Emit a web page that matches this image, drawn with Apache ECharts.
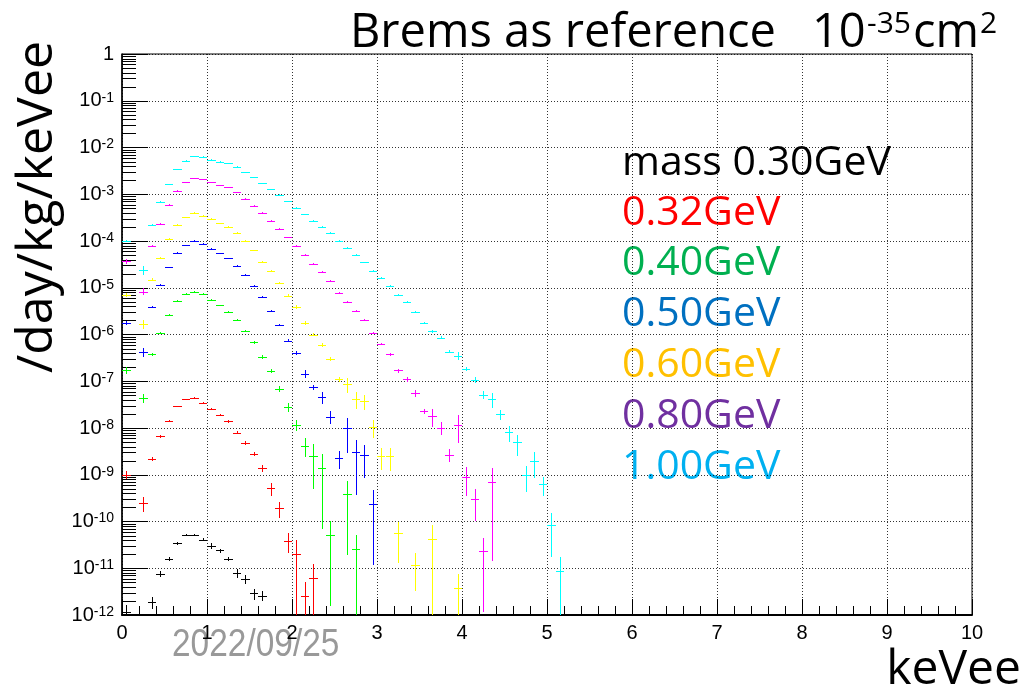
<!DOCTYPE html>
<html><head><meta charset="utf-8">
<script src="https://cdn.jsdelivr.net/npm/echarts@6/dist/echarts.min.js"></script>
<style>html,body{margin:0;padding:0;background:#fff}#c{width:1024px;height:691px}</style>
</head><body><div id="c"></div>
<script>
// ---- data (bin centres in keVee, rates in /day/kg/keVee, relative errors) ----
const energy = [0.05,0.15,0.25,0.35,0.45,0.55,0.65,0.75,0.85,0.95,1.05,1.15,1.25,1.35,1.45,1.55,1.65,1.75,1.85,1.95,2.05,2.15,2.25,2.35,2.45,2.55,2.65,2.75,2.85,2.95,3.05,3.15,3.25,3.35,3.45,3.55,3.65,3.75,3.85,3.95,4.05,4.15,4.25,4.35,4.45,4.55,4.65,4.75,4.85,4.95,5.05,5.15];
const binWidth = 0.1;

const m030 = [1.15e-12,null,null,1.9e-12,7.6e-12,1.6e-11,3.4e-11,5.1e-11,5.1e-11,4.1e-11,3.0e-11,2.4e-11,1.6e-11,7.9e-12,6.0e-12,2.9e-12,2.6e-12];
const m030Err = [0.45,null,null,0.28,0.15,0.1,0.08,0.05,0.05,0.07,0.15,0.1,0.1,0.2,0.22,0.27,0.25];

const m032 = [1.0e-9,null,2.5e-10,2.2e-9,6.6e-9,1.4e-8,2.9e-8,4.1e-8,4.4e-8,3.4e-8,2.6e-8,1.9e-8,1.4e-8,7.9e-9,4.7e-9,2.8e-9,1.4e-9,5.1e-10,1.9e-10,3.9e-11,2.0e-11,2.6e-12,6.2e-12];
const m032Err = [0.2,null,0.35,0.1,0.06,0.05,0.04,0.04,0.04,0.05,0.05,0.06,0.07,0.08,0.1,0.12,0.17,0.3,0.37,0.45,1.0,0.95,0.95];

const m040 = [1.7e-7,null,4.3e-8,3.8e-7,1.07e-6,2.6e-6,5.2e-6,7.4e-6,8.3e-6,7.4e-6,5.5e-6,4.2e-6,3.1e-6,2.0e-6,1.2e-6,6.8e-7,3.3e-7,1.66e-7,6.8e-8,2.8e-8,1.17e-8,4.2e-9,2.5e-9,1.4e-9,5.2e-11,null,3.8e-10,2.6e-11];
const m040Err = [0.17,null,0.22,0.08,0.05,0.04,0.03,0.03,0.03,0.03,0.03,0.04,0.04,0.05,0.06,0.07,0.08,0.1,0.15,0.22,0.28,0.43,0.8,0.95,0.97,null,0.95,1.0];

const m050 = [1.8e-6,null,4.3e-7,3.9e-6,1.15e-5,2.75e-5,5.6e-5,8.1e-5,1.0e-4,8.7e-5,6.9e-5,5.5e-5,4.3e-5,2.9e-5,1.86e-5,1.1e-5,6.2e-6,3.2e-6,1.6e-6,7.4e-7,4.0e-7,1.45e-7,7.4e-8,4.6e-8,1.74e-8,2.3e-9,9.8e-9,3.0e-9,2.6e-9,2.4e-10];
const m050Err = [0.1,null,0.22,0.06,0.04,0.03,0.03,0.03,0.03,0.03,0.03,0.03,0.03,0.04,0.04,0.05,0.05,0.06,0.07,0.08,0.1,0.2,0.12,0.3,0.3,0.43,0.7,0.88,0.67,0.95];

const m060 = [6.9e-6,null,1.66e-6,1.5e-5,4.4e-5,1.1e-4,2.2e-4,3.2e-4,4.0e-4,3.5e-4,3.0e-4,2.4e-4,2.0e-4,1.5e-4,1.0e-4,6.3e-5,3.6e-5,2.3e-5,1.26e-5,6.8e-6,3.9e-6,1.8e-6,1.0e-6,6.0e-7,3.0e-7,1.12e-7,8.7e-8,4.2e-8,3.7e-8,1.07e-8,2.5e-9,2.5e-9,5.6e-11,null,1.2e-11,null,4.3e-11,null,null,3.8e-12];
const m060Err = [0.1,null,0.22,0.06,0.04,0.03,0.03,0.03,0.03,0.03,0.03,0.03,0.03,0.03,0.04,0.04,0.05,0.05,0.06,0.07,0.08,0.1,0.08,0.08,0.1,0.12,0.36,0.4,0.35,0.42,0.5,0.52,0.77,null,0.73,null,1.0,null,null,1.0];

const m080 = [3.7e-5,null,8.3e-6,7.8e-5,2.3e-4,5.9e-4,1.17e-3,1.8e-3,2.2e-3,2.1e-3,1.8e-3,1.55e-3,1.4e-3,1.1e-3,7.9e-4,5.6e-4,4.0e-4,2.7e-4,1.8e-4,1.2e-4,7.9e-5,5.0e-5,3.2e-5,2.2e-5,1.4e-5,7.9e-6,4.9e-6,3.2e-6,2.0e-6,1.1e-6,6.3e-7,3.8e-7,1.7e-7,1.12e-7,5.5e-8,2.3e-8,1.8e-8,1.02e-8,2.7e-9,1.17e-8,9.1e-10,3.0e-10,2.3e-11,7.1e-10];
const m080Err = [0.12,null,0.17,0.05,0.04,0.03,0.03,0.02,0.02,0.02,0.02,0.02,0.02,0.03,0.03,0.03,0.03,0.03,0.04,0.04,0.04,0.04,0.05,0.05,0.05,0.05,0.05,0.05,0.05,0.05,0.06,0.08,0.1,0.12,0.18,0.12,0.42,0.32,0.3,0.6,0.62,0.65,0.95,0.98];

const m100 = [1.0e-4,null,2.4e-5,2.2e-4,6.8e-4,1.66e-3,3.4e-3,5.2e-3,6.6e-3,6.3e-3,5.5e-3,5.0e-3,4.6e-3,3.9e-3,2.95e-3,2.3e-3,1.74e-3,1.3e-3,9.8e-4,7.1e-4,5.2e-4,3.7e-4,2.7e-4,2.0e-4,1.5e-4,1.0e-4,7.1e-5,5.0e-5,3.5e-5,2.3e-5,1.6e-5,1.1e-5,6.9e-6,4.9e-6,3.0e-6,1.8e-6,1.17e-6,8.5e-7,4.3e-7,3.5e-7,1.8e-7,1.07e-7,5.1e-8,4.2e-8,1.95e-8,8.1e-9,4.9e-9,1.0e-9,2.0e-9,6.3e-10,8.5e-11,8.9e-12];
const m100Err = [0.06,null,0.22,0.04,0.03,0.02,0.02,0.02,0.02,0.02,0.02,0.02,0.02,0.02,0.02,0.02,0.02,0.02,0.02,0.02,0.02,0.02,0.03,0.03,0.03,0.03,0.03,0.03,0.03,0.03,0.04,0.04,0.04,0.05,0.05,0.05,0.06,0.07,0.08,0.2,0.1,0.15,0.2,0.36,0.25,0.37,0.48,0.57,0.57,0.45,0.8,1.0];

const massLabels = ['mass 0.30GeV','0.32GeV','0.40GeV','0.50GeV','0.60GeV','0.80GeV','1.00GeV'];
const markerColors = ['#000000','#ff0000','#00ff00','#0000ff','#ffff00','#ff00ff','#00ffff'];
const labelColors  = ['#000000','#ff0000','#00b050','#0070c0','#ffc000','#7030a0','#00b0f0'];
const seriesValues = [m030,m032,m040,m050,m060,m080,m100];
const seriesErrors = [m030Err,m032Err,m040Err,m050Err,m060Err,m080Err,m100Err];

const yDecadeMin = -12, yDecadeMax = 0;
const xMin = 0, xMax = 10;

// ---- build ----
const chart = echarts.init(document.getElementById('c'), null, {renderer:'canvas'});

function buildData(vals, errs){
  const out = [];
  vals.forEach((v,i)=>{ if (v != null) out.push([energy[i], Math.log10(v), errs[i]]); });
  return out;
}

function makeCross(color){
  return function(params, api){
    const cs = params.coordSys;
    const x = api.value(0), ly = api.value(1), r = api.value(2);
    const v = Math.pow(10, ly);
    const pL = api.coord([x - binWidth/2, ly]);
    const pR = api.coord([x + binWidth/2, ly]);
    const up = api.coord([x, Math.log10(v*(1+r))]);
    const bottom = cs.y + cs.height;
    const lowV = v*(1-r);
    let lowY = lowV > 0 ? api.coord([x, Math.log10(lowV)])[1] : bottom;
    lowY = Math.min(lowY, bottom);
    const top = Math.max(up[1], cs.y);
    const yc = Math.round(pL[1]);
    const xc = Math.round(up[0]);
    const x0 = Math.round(pL[0]), x1 = Math.round(pR[0]);
    const t = Math.round(top), b = Math.round(lowY);
    return {type:'group', children:[
      {type:'rect', silent:true, shape:{x:x0, y:yc, width:Math.max(1, x1 - x0), height:1}, style:{fill:color}},
      {type:'rect', silent:true, shape:{x:xc, y:t, width:1, height:Math.max(1, b - t)}, style:{fill:color}}
    ]};
  };
}

// minor ticks of the logarithmic y axis (2..9 x 10^k)
const yMinorTicks = [];
for (let d = yDecadeMin; d < yDecadeMax; d++) for (let k = 2; k <= 9; k++) yMinorTicks.push([xMin, d + Math.log10(k)]);

const series = seriesValues.map((vals, i) => ({
  type:'custom', name: massLabels[i], renderItem: makeCross(markerColors[i]), clip: true,
  itemStyle:{color: markerColors[i]}, encode:{x:0, y:1},
  emphasis:{disabled:true}, select:{disabled:true},
  data: buildData(vals, seriesErrors[i]), silent: true, z: 3
}));
series.push({
  type:'custom', name:'yminor', silent:true, z:2, encode:{x:0,y:1},
  emphasis:{disabled:true},
  data: yMinorTicks,
  renderItem:(params, api)=>{
    const p = api.coord([api.value(0), api.value(1)]);
    const y = Math.round(p[1]) + 0.5;
    return {type:'line', shape:{x1:p[0], y1:y, x2:p[0]+14, y2:y}, style:{stroke:'#000', lineWidth:1}};
  }
});

const gridDots = {color:'#000', type:[1,2], width:1, opacity:0.8};
const overlayFont = "'Open Sans', 'Noto Sans', sans-serif";

const graphic = [
  {type:'text', x:350, y:34, style:{text:'Brems as reference', font:"47px " + overlayFont, fill:'#000', align:'left', verticalAlign:'middle'}},
  {type:'text', x:812, y:34, style:{text:'10', font:"47px " + overlayFont, fill:'#000', align:'left', verticalAlign:'middle'}},
  {type:'text', x:867, y:24, style:{text:'-35', font:"30px " + overlayFont, fill:'#000', align:'left', verticalAlign:'middle'}},
  {type:'text', x:913, y:34, style:{text:'cm', font:"47px " + overlayFont, fill:'#000', align:'left', verticalAlign:'middle'}},
  {type:'text', x:980, y:24, style:{text:'2', font:"30px " + overlayFont, fill:'#000', align:'left', verticalAlign:'middle'}},
  {type:'text', x:38, y:207, rotation:Math.PI/2, style:{text:'/day/kg/keVee', font:"50px " + overlayFont, fill:'#000', align:'center', verticalAlign:'middle'}},
  {type:'text', x:1021, y:670, style:{text:'keVee', font:"48px " + overlayFont, fill:'#000', align:'right', verticalAlign:'middle'}},
  {type:'text', x:172, y:646, scaleX:0.88, style:{text:'2022/09/25', font:"38px 'Liberation Sans', Arial, sans-serif", fill:'#999999', align:'left', verticalAlign:'middle'}}
];
const legendY = [163, 213, 263, 314, 365, 416, 467];
massLabels.forEach((t,i)=>{
  graphic.push({type:'text', x:622, y:legendY[i], style:{text:t, font:"41px " + overlayFont, fill:labelColors[i], align:'left', verticalAlign:'middle'}});
});

const option = {
  animation:false,
  backgroundColor:'#ffffff',
  grid:{left:122, top:54, width:850, height:561, show:true, borderColor:'#000', borderWidth:1, backgroundColor:'transparent'},
  xAxis:{
    type:'value', min:xMin, max:xMax, interval:1,
    axisLine:{onZero:false, lineStyle:{color:'#000', width:2}},
    axisTick:{inside:true, length:16, lineStyle:{color:'#000'}},
    minorTick:{show:true, splitNumber:5, length:9, lineStyle:{color:'#000'}},
    splitLine:{show:true, lineStyle:gridDots},
    axisLabel:{margin:8, fontSize:20, fontFamily:"'Liberation Sans', Arial, sans-serif", color:'#000'}
  },
  yAxis:{
    type:'value', min:yDecadeMin, max:yDecadeMax, interval:1,
    axisLine:{onZero:false, lineStyle:{color:'#000', width:1.5}},
    axisTick:{inside:true, length:26, lineStyle:{color:'#000'}},
    splitLine:{show:true, lineStyle:gridDots},
    axisLabel:{
      margin:8,
      formatter:(v)=> v === 0 ? '{b|1}' : '{b|10}{s|' + v + '}',
      rich:{
        b:{fontSize:20, fontFamily:"'Liberation Sans', Arial, sans-serif", color:'#000'},
        s:{fontSize:14, fontFamily:"'Liberation Sans', Arial, sans-serif", color:'#000', verticalAlign:'top'}
      }
    }
  },
  series: series,
  graphic: graphic
};
chart.setOption(option);
</script></body></html>
